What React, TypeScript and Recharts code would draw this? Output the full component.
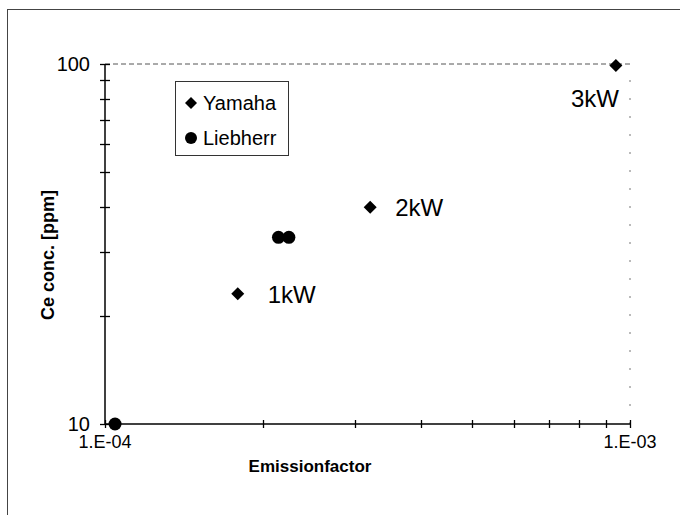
import React from 'react'
import { ScatterChart, Scatter, XAxis, YAxis, ReferenceLine, Label } from 'recharts'

// Yamaha generators (diamonds) and Liebherr (circles)
const yamahaFactor = [1.79e-4, 3.2e-4, 9.4e-4]
const yamahaConc = [23, 40, 99]
const yamahaPower = ['1kW', '2kW', '3kW']
const liebherrFactor = [1.045e-4, 2.14e-4, 2.24e-4]
const liebherrConc = [10, 33, 33]

const seriesNames = ['Yamaha', 'Liebherr']
const xTicks = [1e-4, 2e-4, 3e-4, 4e-4, 5e-4, 6e-4, 7e-4, 8e-4, 9e-4, 1e-3]
const xTickLabels: Record<string, string> = { '0.0001': '1.E-04', '0.001': '1.E-03' }
const yTicks = [10, 20, 30, 40, 50, 60, 70, 80, 90, 100]
const yMajor = [10, 100]

const yamahaData = yamahaFactor.map((f, i) => ({ f, c: yamahaConc[i], label: yamahaPower[i] }))
const liebherrData = liebherrFactor.map((f, i) => ({ f, c: liebherrConc[i] }))

const FONT = '"Liberation Sans", Arial, sans-serif'
// where each power label sits relative to its point
const labelOffset: Record<string, [number, number]> = { '1kW': [30, 9], '2kW': [25, 9], '3kW': [-45, 41] }

function Diamond({ cx, cy, payload }: any) {
  const r = 6.5
  const off = payload && labelOffset[payload.label]
  return (
    <g>
      <polygon points={`${cx},${cy - r} ${cx + r},${cy} ${cx},${cy + r} ${cx - r},${cy}`} fill="#000" />
      {off && (
        <text x={cx + off[0]} y={cy + off[1]} fontSize={24} fontFamily={FONT} fill="#000">
          {payload.label}
        </text>
      )}
    </g>
  )
}

function Dot({ cx, cy }: any) {
  return <circle cx={cx} cy={cy} r={6.5} fill="#000" />
}

function XTick({ x, y, payload }: any) {
  const txt = xTickLabels[String(payload.value)]
  const px = Math.round(x) + 0.5
  return (
    <g>
      <line x1={px} x2={px} y1={y - 4} y2={y + 4} stroke="#000" strokeWidth={1.3} />
      {txt && (
        <text x={x} y={y + 24} textAnchor="middle" fontSize={18} fontFamily={FONT} fill="#000">{txt}</text>
      )}
    </g>
  )
}

function YTick({ x, y, payload }: any) {
  return (
    <text x={x - 15} y={y + 7} textAnchor="end" fontSize={20} fontFamily={FONT} fill="#000">{payload.value}</text>
  )
}

// short cross mark on the y axis for each log tick
function YMark({ x1, y1 }: any) {
  const py = Math.round(y1) + 0.5
  return <line x1={x1 - 5} x2={x1 + 5} y1={py} y2={py} stroke="#000" strokeWidth={1.3} />
}

const blank = () => ''

export default function App() {
  return (
    <div style={{ position: 'absolute', left: 0, top: 0, width: 680, height: 515, background: '#fff', fontFamily: FONT }}>
      <div style={{ position: 'absolute', left: 7, top: 9, width: 690, height: 520, borderLeft: '1px solid #444', borderTop: '1px solid #444' }} />
      <ScatterChart width={680} height={515} margin={{ top: 64, right: 50, bottom: 51, left: 0 }}>
        <XAxis
          type="number"
          dataKey="f"
          scale="log"
          domain={[1e-4, 1e-3]}
          ticks={xTicks}
          height={40}
          tickSize={0}
          tickMargin={0}
          tickLine={false}
          tick={<XTick />}
          tickFormatter={blank}
          stroke="#000"
          strokeWidth={1.5}
          interval={0}
        >
          <Label
            content={() => (
              <text x={310} y={472} textAnchor="middle" fontSize={17} fontWeight="bold" fontFamily={FONT} fill="#000">
                Emissionfactor
              </text>
            )}
          />
        </XAxis>
        <YAxis
          type="number"
          dataKey="c"
          scale="log"
          domain={[10, 100]}
          ticks={yMajor}
          width={105}
          tickSize={0}
          tickMargin={0}
          tickLine={false}
          tick={<YTick />}
          stroke="#000"
          strokeWidth={1.5}
          interval={0}
        >
          <Label
            content={() => (
              <text
                x={48}
                y={255}
                textAnchor="middle"
                fontSize={18}
                fontWeight="bold"
                fontFamily={FONT}
                fill="#000"
                transform="rotate(-90 48 255)"
                dominantBaseline="central"
              >
                Ce conc. [ppm]
              </text>
            )}
          />
        </YAxis>
        <ReferenceLine y={100} stroke="#555" strokeDasharray="5 3" />
        <ReferenceLine x={1e-3} stroke="#777" strokeDasharray="2 16" />
        {yTicks.map((v) => (
          <ReferenceLine key={v} y={v} shape={<YMark />} />
        ))}
        <Scatter name={seriesNames[0]} data={yamahaData} shape={<Diamond />} isAnimationActive={false} />
        <Scatter name={seriesNames[1]} data={liebherrData} shape={<Dot />} isAnimationActive={false} />
      </ScatterChart>
      <div
        style={{
          position: 'absolute', left: 175, top: 81, width: 114, height: 75,
          border: '1px solid #333', boxSizing: 'border-box', fontSize: 20, color: '#000',
        }}
      >
        {seriesNames.map((name, i) => (
          <div key={name} style={{ position: 'absolute', left: 8, top: i === 0 ? 9 : 44, height: 24, display: 'flex', alignItems: 'center' }}>
            <svg width={14} height={14} style={{ marginRight: 5 }}>
              {i === 0 ? <polygon points="7,1 13,7 7,13 1,7" fill="#000" /> : <circle cx={7} cy={7} r={6} fill="#000" />}
            </svg>
            <span>{name}</span>
          </div>
        ))}
      </div>
    </div>
  )
}
